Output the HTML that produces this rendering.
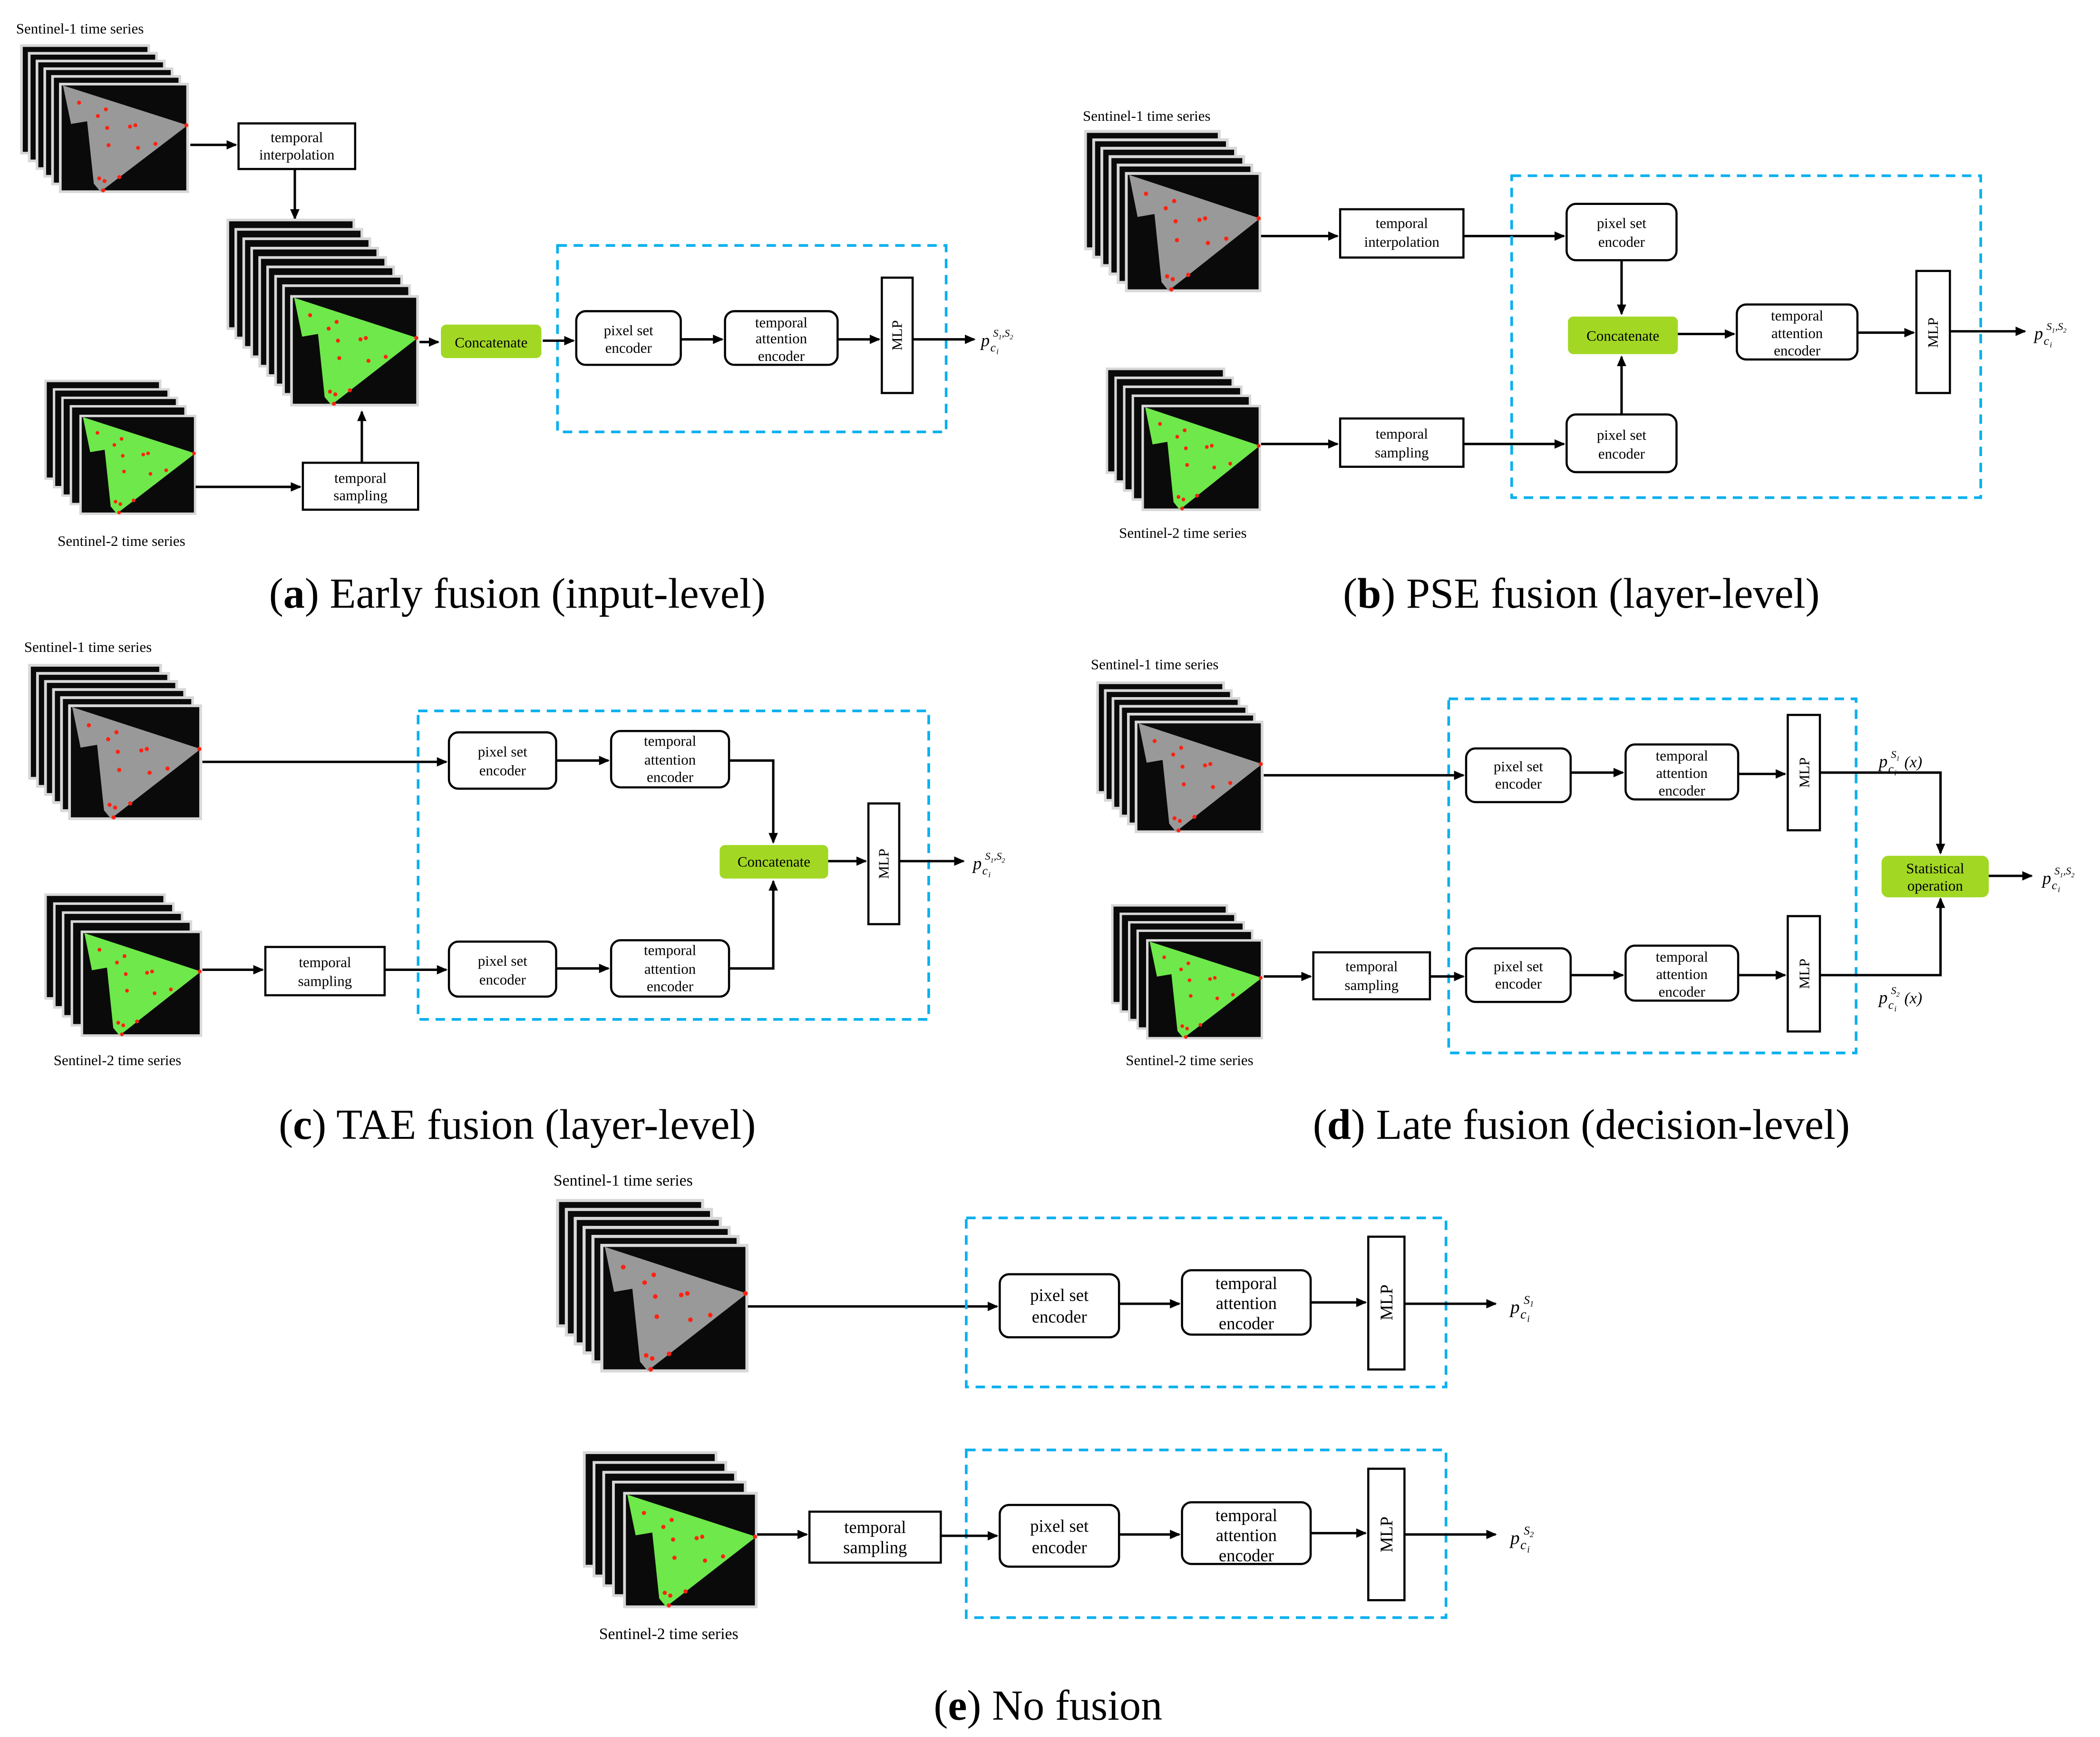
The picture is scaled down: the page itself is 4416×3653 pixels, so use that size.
<!DOCTYPE html>
<html><head><meta charset="utf-8"><style>
html,body{margin:0;padding:0;background:#fff}
svg{display:block}
text{font-family:"Liberation Serif",serif;fill:#000}
.b{fill:#fff;stroke:#000;stroke-width:1.6}
.g{fill:#a2d824;stroke:none}
.d{fill:none;stroke:#09b0ef;stroke-width:2;stroke-dasharray:7,5}
.l{fill:none;stroke:#000;stroke-width:1.8}
.t{font-size:11px;text-anchor:middle}
.te{font-size:13px;text-anchor:middle}
.cap{font-size:32px;text-anchor:middle}
.sl{font-size:11px}
.m{font-style:italic}
</style></head><body>
<svg xmlns="http://www.w3.org/2000/svg" xmlns:xlink="http://www.w3.org/1999/xlink" width="4416" height="3653" viewBox="0 0 1567 1295" preserveAspectRatio="none">
<defs>
<marker id="a" markerWidth="8" markerHeight="8" refX="7" refY="4" orient="auto" markerUnits="userSpaceOnUse"><path d="M0,0.5 L8,4 L0,7.5 z" fill="#000"/></marker>
<g id="L"><rect width="95" height="81" fill="#0a0a0a" stroke="#d8d8d8" stroke-width="2"/></g>
<g id="dots" fill="#f21">
<circle cx="14" cy="14" r="1.5"/><circle cx="28" cy="24" r="1.5"/><circle cx="34" cy="19" r="1.5"/><circle cx="35" cy="33" r="1.5"/><circle cx="52" cy="32" r="1.5"/><circle cx="56" cy="31" r="1.5"/><circle cx="36" cy="46" r="1.5"/><circle cx="58" cy="48" r="1.5"/><circle cx="71" cy="45" r="1.5"/><circle cx="29" cy="71" r="1.5"/><circle cx="33" cy="73" r="1.5"/><circle cx="44" cy="70" r="1.5"/><circle cx="32" cy="80" r="1.5"/><circle cx="94" cy="31" r="1.5"/>
</g>
<g id="s1">
<use xlink:href="#L"/><use xlink:href="#L" x="5.8" y="5.8"/><use xlink:href="#L" x="11.6" y="11.6"/><use xlink:href="#L" x="17.4" y="17.4"/><use xlink:href="#L" x="23.2" y="23.2"/>
<g transform="translate(29,29)"><use xlink:href="#L"/><polygon points="2,1 95,31 30,81 25,75 20,28 8,30" fill="#999"/><use xlink:href="#dots"/></g>
</g>
<g id="s2">
<use xlink:href="#L"/><use xlink:href="#L" x="7" y="7"/><use xlink:href="#L" x="14" y="14"/><use xlink:href="#L" x="21" y="21"/>
<g transform="translate(29,29)"><use xlink:href="#L"/><polygon points="2,1 95,31 30,81 25,75 20,28 8,30" fill="#6ee84a"/><use xlink:href="#dots"/></g>
</g>
<g id="big">
<use xlink:href="#L"/><use xlink:href="#L" x="6" y="7"/><use xlink:href="#L" x="12" y="14"/><use xlink:href="#L" x="18" y="21"/><use xlink:href="#L" x="24" y="28"/><use xlink:href="#L" x="30" y="35"/><use xlink:href="#L" x="36" y="42"/><use xlink:href="#L" x="42" y="49"/>
<g transform="translate(48,57)"><use xlink:href="#L"/><polygon points="2,1 95,31 30,81 25,75 20,28 8,30" fill="#6ee84a"/><use xlink:href="#dots"/></g>
</g>
</defs>

<!-- (a) -->
<text x="12" y="25" class="sl">Sentinel-1 time series</text>
<use xlink:href="#s1" transform="translate(16,34) scale(1,0.99)"/>
<path class="l" d="M142,108 H176" marker-end="url(#a)"/>
<rect class="b" x="178" y="92" width="87" height="34" stroke-width="1.3"/>
<text class="t" x="221.5" y="106">temporal</text><text class="t" x="221.5" y="119">interpolation</text>
<path class="l" d="M220,126 V163" marker-end="url(#a)"/>
<use xlink:href="#big" transform="translate(170,164) scale(0.99,1)"/>
<use xlink:href="#s2" transform="translate(34,284) scale(0.9,0.9)"/>
<text x="43" y="407" class="sl">Sentinel-2 time series</text>
<path class="l" d="M146,363 H224" marker-end="url(#a)"/>
<rect class="b" x="226" y="345" width="86" height="35" stroke-width="1.3"/>
<text class="t" x="269" y="360">temporal</text><text class="t" x="269" y="373">sampling</text>
<path class="l" d="M270,345 V307" marker-end="url(#a)"/>
<path class="l" d="M313,255 H327" marker-end="url(#a)"/>
<rect class="g" x="329" y="242" width="75" height="25" rx="4"/>
<text class="t" x="366.5" y="259">Concatenate</text>
<rect class="d" x="416" y="183" width="290" height="139"/>
<path class="l" d="M405,254 H428" marker-end="url(#a)"/>
<rect class="b" x="430" y="232" width="78" height="40" rx="7"/>
<text class="t" x="469" y="250">pixel set</text><text class="t" x="469" y="263">encoder</text>
<path class="l" d="M508,253 H539" marker-end="url(#a)"/>
<rect class="b" x="541" y="232" width="84" height="40" rx="7"/>
<text class="t" x="583" y="244">temporal</text><text class="t" x="583" y="256">attention</text><text class="t" x="583" y="269">encoder</text>
<path class="l" d="M625,253 H656" marker-end="url(#a)"/>
<rect class="b" x="658" y="207" width="23" height="86"/>
<text class="t" transform="translate(673,250) rotate(-90)">MLP</text>
<path class="l" d="M681,253 H727" marker-end="url(#a)"/>
<g transform="translate(732,258)"><text class="m" font-size="13">p</text><text class="m" x="7" y="4" font-size="9">c</text><text class="m" x="11.5" y="6" font-size="6">i</text><text class="m" x="9" y="-7" font-size="8">S<tspan font-size="5" dy="2">1</tspan><tspan dy="-2">,S</tspan><tspan font-size="5" dy="2">2</tspan></text></g>
<text class="cap" x="386" y="453"><tspan>(</tspan><tspan font-weight="bold">a</tspan><tspan>) Early fusion (input-level)</tspan></text>

<!-- (b) -->
<text x="808" y="90" class="sl">Sentinel-1 time series</text>
<use xlink:href="#s1" transform="translate(810,98) scale(1.05,1.08)"/>
<path class="l" d="M941,176 H998" marker-end="url(#a)"/>
<rect class="b" x="1000" y="156" width="92" height="36" stroke-width="1.3"/>
<text class="t" x="1046" y="170">temporal</text><text class="t" x="1046" y="184">interpolation</text>
<path class="l" d="M1092,176 H1167" marker-end="url(#a)"/>
<rect class="d" x="1128" y="131" width="350" height="240"/>
<rect class="b" x="1169" y="152" width="82" height="42" rx="7"/>
<text class="t" x="1210" y="170">pixel set</text><text class="t" x="1210" y="184">encoder</text>
<path class="l" d="M1210,194 V234" marker-end="url(#a)"/>
<rect class="g" x="1170" y="236" width="82" height="28" rx="4"/>
<text class="t" x="1211" y="254">Concatenate</text>
<use xlink:href="#s2" transform="translate(826,275) scale(0.92,0.955)"/>
<text x="835" y="401" class="sl">Sentinel-2 time series</text>
<path class="l" d="M941,331 H998" marker-end="url(#a)"/>
<rect class="b" x="1000" y="312" width="92" height="36" stroke-width="1.3"/>
<text class="t" x="1046" y="327">temporal</text><text class="t" x="1046" y="341">sampling</text>
<path class="l" d="M1092,331 H1167" marker-end="url(#a)"/>
<rect class="b" x="1169" y="309" width="82" height="43" rx="7"/>
<text class="t" x="1210" y="328">pixel set</text><text class="t" x="1210" y="342">encoder</text>
<path class="l" d="M1210,309 V266" marker-end="url(#a)"/>
<path class="l" d="M1252,249 H1294" marker-end="url(#a)"/>
<rect class="b" x="1296" y="227" width="90" height="41" rx="7"/>
<text class="t" x="1341" y="239">temporal</text><text class="t" x="1341" y="252">attention</text><text class="t" x="1341" y="265">encoder</text>
<path class="l" d="M1386,248 H1428" marker-end="url(#a)"/>
<rect class="b" x="1430" y="202" width="25" height="91"/>
<text class="t" transform="translate(1446,248) rotate(-90)">MLP</text>
<path class="l" d="M1455,247 H1511" marker-end="url(#a)"/>
<g transform="translate(1518,253)"><text class="m" font-size="13">p</text><text class="m" x="7" y="4" font-size="9">c</text><text class="m" x="11.5" y="6" font-size="6">i</text><text class="m" x="9" y="-7" font-size="8">S<tspan font-size="5" dy="2">1</tspan><tspan dy="-2">,S</tspan><tspan font-size="5" dy="2">2</tspan></text></g>
<text class="cap" x="1180" y="453">(<tspan font-weight="bold">b</tspan>) PSE fusion (layer-level)</text>

<!-- (c) -->
<text x="18" y="486" class="sl">Sentinel-1 time series</text>
<use xlink:href="#s1" transform="translate(22,496) scale(1.03,1.04)"/>
<path class="l" d="M151,568 H333" marker-end="url(#a)"/>
<rect class="d" x="312" y="530" width="381" height="230"/>
<rect class="b" x="335" y="546" width="80" height="42" rx="7"/>
<text class="t" x="375" y="564">pixel set</text><text class="t" x="375" y="578">encoder</text>
<path class="l" d="M415,567 H454" marker-end="url(#a)"/>
<rect class="b" x="456" y="545" width="88" height="42" rx="7"/>
<text class="t" x="500" y="556">temporal</text><text class="t" x="500" y="570">attention</text><text class="t" x="500" y="583">encoder</text>
<path class="l" d="M544,567 H577 V628" marker-end="url(#a)"/>
<rect class="g" x="537" y="630" width="81" height="25" rx="4"/>
<text class="t" x="577.5" y="646">Concatenate</text>
<path class="l" d="M618,642 H646" marker-end="url(#a)"/>
<rect class="b" x="648" y="599" width="23" height="90"/>
<text class="t" transform="translate(663,644) rotate(-90)">MLP</text>
<path class="l" d="M671,642 H719" marker-end="url(#a)"/>
<g transform="translate(726,648)"><text class="m" font-size="13">p</text><text class="m" x="7" y="4" font-size="9">c</text><text class="m" x="11.5" y="6" font-size="6">i</text><text class="m" x="9" y="-7" font-size="8">S<tspan font-size="5" dy="2">1</tspan><tspan dy="-2">,S</tspan><tspan font-size="5" dy="2">2</tspan></text></g>
<use xlink:href="#s2" transform="translate(34,667) scale(0.935,0.955)"/>
<text x="40" y="794" class="sl">Sentinel-2 time series</text>
<path class="l" d="M151,723 H196" marker-end="url(#a)"/>
<rect class="b" x="198" y="706" width="89" height="36" stroke-width="1.3"/>
<text class="t" x="242.5" y="721">temporal</text><text class="t" x="242.5" y="735">sampling</text>
<path class="l" d="M287,723 H333" marker-end="url(#a)"/>
<rect class="b" x="335" y="702" width="80" height="41" rx="7"/>
<text class="t" x="375" y="720">pixel set</text><text class="t" x="375" y="734">encoder</text>
<path class="l" d="M415,722 H454" marker-end="url(#a)"/>
<rect class="b" x="456" y="701" width="88" height="42" rx="7"/>
<text class="t" x="500" y="712">temporal</text><text class="t" x="500" y="726">attention</text><text class="t" x="500" y="739">encoder</text>
<path class="l" d="M544,722 H577 V657" marker-end="url(#a)"/>
<text class="cap" x="386" y="849">(<tspan font-weight="bold">c</tspan>) TAE fusion (layer-level)</text>

<!-- (d) -->
<text x="814" y="499" class="sl">Sentinel-1 time series</text>
<use xlink:href="#s1" transform="translate(819,509) scale(0.99,1.01)"/>
<path class="l" d="M943,578 H1092" marker-end="url(#a)"/>
<rect class="d" x="1081" y="521" width="304" height="264"/>
<rect class="b" x="1094" y="558" width="78" height="40" rx="7"/>
<text class="t" x="1133" y="575">pixel set</text><text class="t" x="1133" y="588">encoder</text>
<path class="l" d="M1172,576 H1211" marker-end="url(#a)"/>
<rect class="b" x="1213" y="555" width="84" height="41" rx="7"/>
<text class="t" x="1255" y="567">temporal</text><text class="t" x="1255" y="580">attention</text><text class="t" x="1255" y="593">encoder</text>
<path class="l" d="M1297,577 H1332" marker-end="url(#a)"/>
<rect class="b" x="1334" y="533" width="24" height="86"/>
<text class="t" transform="translate(1350,576) rotate(-90)">MLP</text>
<path class="l" d="M1358,576 H1448 V636" marker-end="url(#a)"/>
<g transform="translate(1402,572)"><text class="m" font-size="13">p</text><text class="m" x="7" y="4" font-size="9">c</text><text class="m" x="11.5" y="6" font-size="6">i</text><text class="m" x="9" y="-7" font-size="8">S<tspan font-size="5" dy="2">1</tspan></text><text class="m" x="19" y="0" font-size="12">(x)</text></g>
<rect class="g" x="1404" y="638" width="80" height="31" rx="5"/>
<text class="t" x="1444" y="651">Statistical</text><text class="t" x="1444" y="664">operation</text>
<path class="l" d="M1484,653 H1516" marker-end="url(#a)"/>
<g transform="translate(1524,659)"><text class="m" font-size="13">p</text><text class="m" x="7" y="4" font-size="9">c</text><text class="m" x="11.5" y="6" font-size="6">i</text><text class="m" x="9" y="-7" font-size="8">S<tspan font-size="5" dy="2">1</tspan><tspan dy="-2">,S</tspan><tspan font-size="5" dy="2">2</tspan></text></g>
<use xlink:href="#s2" transform="translate(830,675) scale(0.9,0.9)"/>
<text x="840" y="794" class="sl">Sentinel-2 time series</text>
<path class="l" d="M943,728 H978" marker-end="url(#a)"/>
<rect class="b" x="980" y="710" width="87" height="35" stroke-width="1.3"/>
<text class="t" x="1023.5" y="724">temporal</text><text class="t" x="1023.5" y="738">sampling</text>
<path class="l" d="M1067,728 H1092" marker-end="url(#a)"/>
<rect class="b" x="1094" y="707" width="78" height="40" rx="7"/>
<text class="t" x="1133" y="724">pixel set</text><text class="t" x="1133" y="737">encoder</text>
<path class="l" d="M1172,727 H1211" marker-end="url(#a)"/>
<rect class="b" x="1213" y="705" width="84" height="41" rx="7"/>
<text class="t" x="1255" y="717">temporal</text><text class="t" x="1255" y="730">attention</text><text class="t" x="1255" y="743">encoder</text>
<path class="l" d="M1297,727 H1332" marker-end="url(#a)"/>
<rect class="b" x="1334" y="683" width="24" height="86"/>
<text class="t" transform="translate(1350,726) rotate(-90)">MLP</text>
<path class="l" d="M1358,727 H1448 V670" marker-end="url(#a)"/>
<g transform="translate(1402,748)"><text class="m" font-size="13">p</text><text class="m" x="7" y="4" font-size="9">c</text><text class="m" x="11.5" y="6" font-size="6">i</text><text class="m" x="9" y="-7" font-size="8">S<tspan font-size="5" dy="2">2</tspan></text><text class="m" x="19" y="0" font-size="12">(x)</text></g>
<text class="cap" x="1180" y="849">(<tspan font-weight="bold">d</tspan>) Late fusion (decision-level)</text>

<!-- (e) -->
<text x="413" y="884" font-size="12">Sentinel-1 time series</text>
<use xlink:href="#s1" transform="translate(416,895) scale(1.14,1.155)"/>
<path class="l" d="M558,974 H744" marker-end="url(#a)"/>
<rect class="d" x="721" y="908" width="358" height="126"/>
<rect class="b" x="746" y="950" width="89" height="47" rx="7"/>
<text class="te" x="790.5" y="970">pixel set</text><text class="te" x="790.5" y="986">encoder</text>
<path class="l" d="M835,972 H880" marker-end="url(#a)"/>
<rect class="b" x="882" y="947" width="96" height="48" rx="7"/>
<text class="te" x="930" y="961">temporal</text><text class="te" x="930" y="976">attention</text><text class="te" x="930" y="991">encoder</text>
<path class="l" d="M978,971 H1019" marker-end="url(#a)"/>
<rect class="b" x="1021" y="922" width="27" height="99"/>
<text class="te" transform="translate(1039,971) rotate(-90)">MLP</text>
<path class="l" d="M1048,972 H1116" marker-end="url(#a)"/>
<g transform="translate(1127,979)"><text class="m" font-size="14">p</text><text class="m" x="7.5" y="4" font-size="10">c</text><text class="m" x="12.5" y="6.5" font-size="7">i</text><text class="m" x="10" y="-7" font-size="9">S<tspan font-size="6" dy="2">1</tspan></text></g>
<rect class="d" x="721" y="1081" width="358" height="125"/>
<use xlink:href="#s2" transform="translate(436,1083) scale(1.035,1.045)"/>
<text x="447" y="1222" font-size="12">Sentinel-2 time series</text>
<path class="l" d="M565,1144 H602" marker-end="url(#a)"/>
<rect class="b" x="604" y="1127" width="98" height="38" stroke-width="1.3"/>
<text class="te" x="653" y="1143">temporal</text><text class="te" x="653" y="1158">sampling</text>
<path class="l" d="M702,1145 H744" marker-end="url(#a)"/>
<rect class="b" x="746" y="1122" width="89" height="46" rx="7"/>
<text class="te" x="790.5" y="1142">pixel set</text><text class="te" x="790.5" y="1158">encoder</text>
<path class="l" d="M835,1144 H880" marker-end="url(#a)"/>
<rect class="b" x="882" y="1120" width="96" height="46" rx="7"/>
<text class="te" x="930" y="1134">temporal</text><text class="te" x="930" y="1149">attention</text><text class="te" x="930" y="1164">encoder</text>
<path class="l" d="M978,1143 H1019" marker-end="url(#a)"/>
<rect class="b" x="1021" y="1095" width="27" height="98"/>
<text class="te" transform="translate(1039,1144) rotate(-90)">MLP</text>
<path class="l" d="M1048,1144 H1116" marker-end="url(#a)"/>
<g transform="translate(1127,1151)"><text class="m" font-size="14">p</text><text class="m" x="7.5" y="4" font-size="10">c</text><text class="m" x="12.5" y="6.5" font-size="7">i</text><text class="m" x="10" y="-7" font-size="9">S<tspan font-size="6" dy="2">2</tspan></text></g>
<text class="cap" x="782" y="1282">(<tspan font-weight="bold">e</tspan>) No fusion</text>
</svg>
</body></html>
